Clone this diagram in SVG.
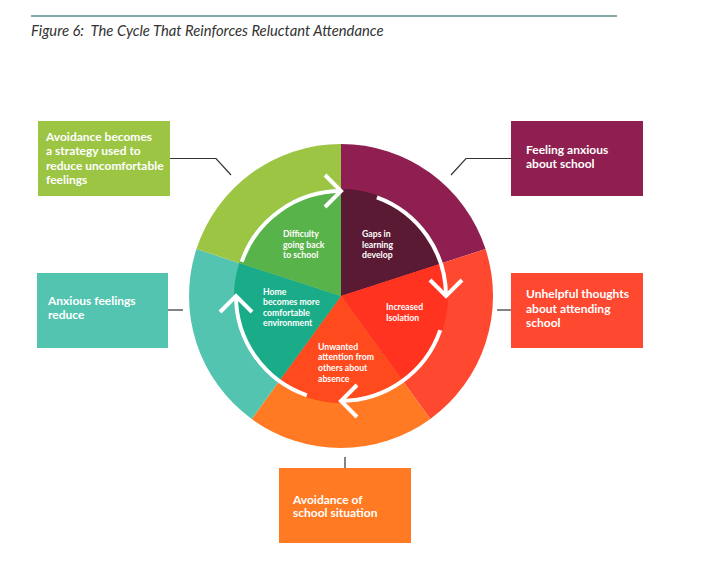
<svg xmlns="http://www.w3.org/2000/svg" width="710" height="570" viewBox="0 0 710 570">
<defs>
<style>
.title{font-family:Lato,"Liberation Sans",sans-serif;font-style:italic;font-size:14.8px;fill:#333}
.bx{font-family:Lato,"Liberation Sans",sans-serif;font-weight:bold;font-size:12px;fill:#fff}
.in{font-family:Lato,"Liberation Sans",sans-serif;font-weight:bold;font-size:8.7px;fill:#fff}
.conn{stroke:#333;stroke-width:1.2;fill:none}
.ring{stroke:#fff;stroke-width:4;fill:none;stroke-linecap:butt}
</style>
</defs>
<rect width="710" height="570" fill="#fff"/>
<line x1="31" y1="16" x2="617" y2="16" stroke="#5B8C8C" stroke-width="1.5"/>
<text class="title" x="31" y="36">Figure 6:&#160; The Cycle That Reinforces Reluctant Attendance</text>

<g id="connectors">
<polyline class="conn" points="170,158.5 216,158.5 231,175"/>
<polyline class="conn" points="511,158.5 466,158.5 451,175"/>
<line class="conn" x1="168" y1="310" x2="183" y2="310"/>
<line class="conn" x1="497" y1="310" x2="511" y2="310"/>
<line class="conn" x1="345" y1="457" x2="345" y2="468"/>
</g>

<g id="cycle">
<path d="M341,296 L341,144 A152,152 0 0 1 485.56,249.03 Z" fill="#8E1F50"/>
<path d="M341,296 L485.56,249.03 A152,152 0 0 1 430.34,418.97 Z" fill="#FF4830"/>
<path d="M341,296 L430.34,418.97 A152,152 0 0 1 251.66,418.97 Z" fill="#FF7A22"/>
<path d="M341,296 L251.66,418.97 A152,152 0 0 1 196.44,249.03 Z" fill="#52C4B0"/>
<path d="M341,296 L196.44,249.03 A152,152 0 0 1 341,144 Z" fill="#9CC544"/>
<path d="M341,296 L341,189 A107,107 0 0 1 442.76,262.93 Z" fill="#5A1A33"/>
<path d="M341,296 L442.76,262.93 A107,107 0 0 1 403.89,382.57 Z" fill="#FF3320"/>
<path d="M341,296 L403.89,382.57 A107,107 0 0 1 278.11,382.57 Z" fill="#FF4A1E"/>
<path d="M341,296 L278.11,382.57 A107,107 0 0 1 239.24,262.93 Z" fill="#1AAC88"/>
<path d="M341,296 L239.24,262.93 A107,107 0 0 1 341,189 Z" fill="#58B34A"/>
<path class="ring" d="M376.91,197.33 A105,105 0 0 1 446,296"/>
<polyline class="ring" points="430,280 446,296 462,280"/>
<path class="ring" d="M440.28,330.19 A105,105 0 0 1 341,401"/>
<polyline class="ring" points="357,385 341,401 357,417"/>
<path class="ring" d="M306.81,395.28 A105,105 0 0 1 236,296"/>
<polyline class="ring" points="220,312 236,296 252,312"/>
<path class="ring" d="M241.72,261.81 A105,105 0 0 1 341,191"/>
<polyline class="ring" points="325,175 341,191 325,207"/>
</g>

<g id="inner-difficulty"><text class="in" x="283" y="237">Difficulty</text><text class="in" x="283" y="247.5">going back</text><text class="in" x="283" y="258">to school</text></g>
<g id="inner-gaps"><text class="in" x="362" y="237">Gaps in</text><text class="in" x="362" y="247.5">learning</text><text class="in" x="362" y="258">develop</text></g>
<g id="inner-isolation"><text class="in" x="386" y="309.5">Increased</text><text class="in" x="386" y="320.5">Isolation</text></g>
<g id="inner-unwanted"><text class="in" x="318" y="349.5">Unwanted</text><text class="in" x="318" y="360">attention from</text><text class="in" x="318" y="371">others about</text><text class="in" x="318" y="381.5">absence</text></g>
<g id="inner-home"><text class="in" x="263" y="294.5">Home</text><text class="in" x="263" y="305">becomes more</text><text class="in" x="263" y="315.5">comfortable</text><text class="in" x="263" y="326">environment</text></g>

<g id="box-avoidance-strategy">
<rect x="38" y="121" width="132" height="75" fill="#9CC544"/>
<text class="bx" x="46" y="140.5">Avoidance becomes</text>
<text class="bx" x="46" y="155">a strategy used to</text>
<text class="bx" x="46" y="169.5">reduce uncomfortable</text>
<text class="bx" x="46" y="184">feelings</text>
</g>
<g id="box-feeling-anxious">
<rect x="511" y="121" width="132" height="75" fill="#8E1F50"/>
<text class="bx" x="526" y="153.5">Feeling anxious</text>
<text class="bx" x="526" y="167.5">about school</text>
</g>
<g id="box-anxious-reduce">
<rect x="37" y="273" width="131" height="75" fill="#52C4B0"/>
<text class="bx" x="48" y="304.5">Anxious feelings</text>
<text class="bx" x="48" y="318.5">reduce</text>
</g>
<g id="box-unhelpful">
<rect x="511" y="273" width="132" height="75" fill="#FF4830"/>
<text class="bx" x="526" y="298">Unhelpful thoughts</text>
<text class="bx" x="526" y="312.5">about attending</text>
<text class="bx" x="526" y="327">school</text>
</g>
<g id="box-avoidance-situation">
<rect x="279" y="468" width="132" height="75" fill="#FF7A22"/>
<text class="bx" x="293" y="503.5">Avoidance of</text>
<text class="bx" x="293" y="517">school situation</text>
</g>
</svg>
